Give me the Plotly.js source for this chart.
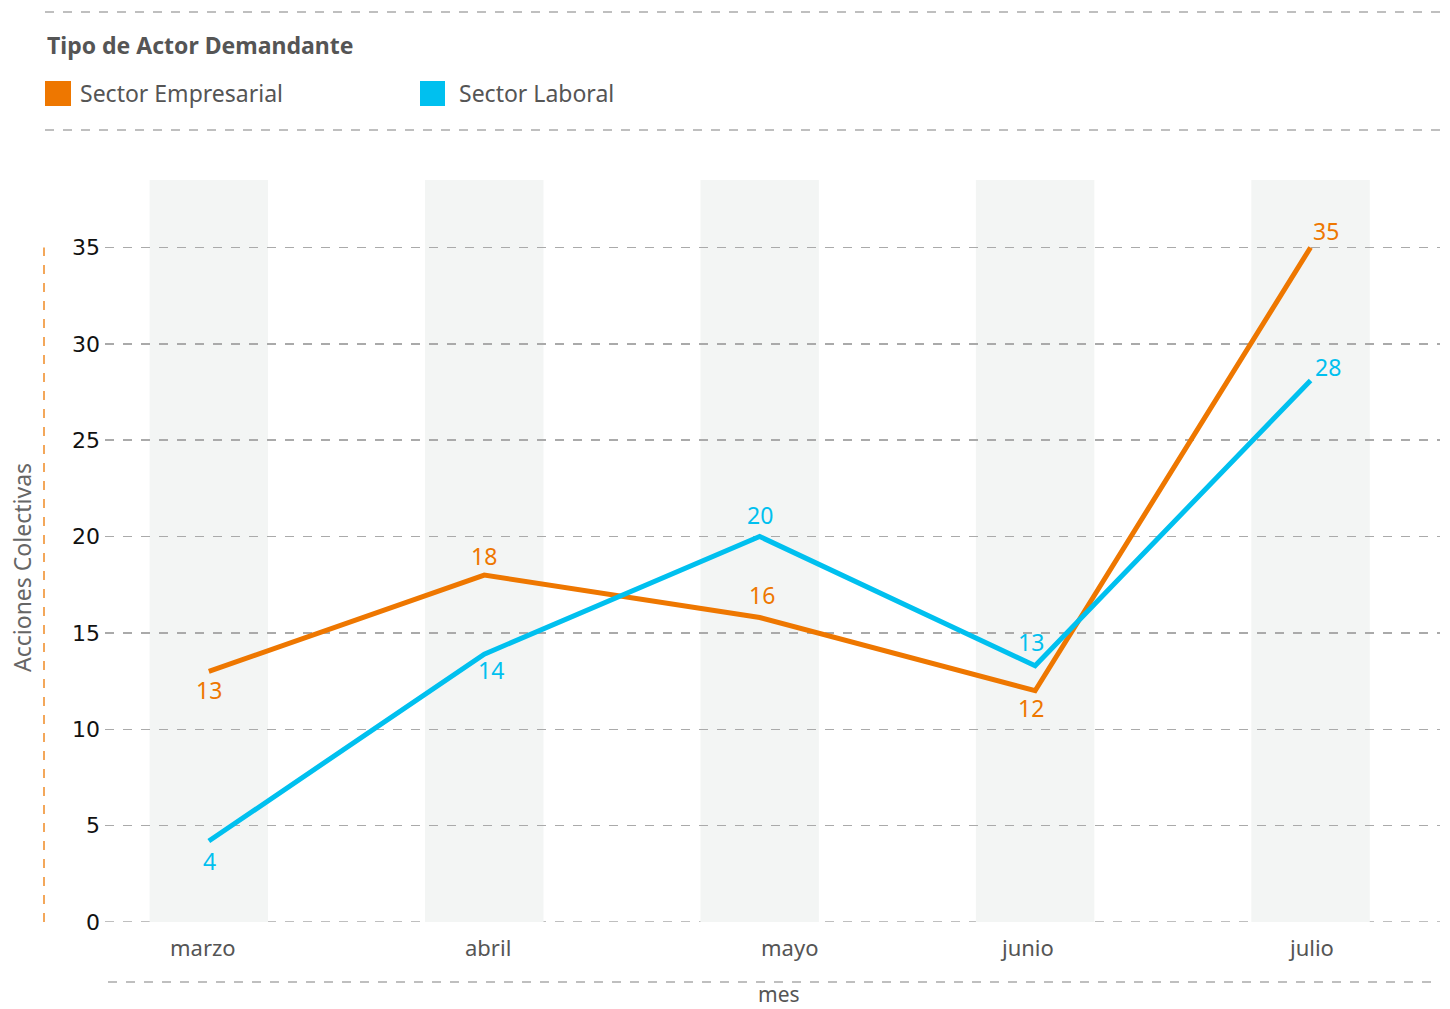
<!DOCTYPE html>
<html><head><meta charset="utf-8">
<script src="https://cdn.plot.ly/plotly-3.0.1.min.js"></script>
<style>body{margin:0;background:#fff}#chart{width:1450px;height:1009px}</style>
</head><body><div id="chart"></div>
<script>
var months = ['marzo','abril','mayo','junio','julio'];
var empresarial = [13, 18, 15.8, 12, 35];
var laboral = [4.2, 13.9, 20, 13.3, 28.1];
var seriesNames = ['Sector Empresarial','Sector Laboral'];
var legendTitle = 'Tipo de Actor Demandante';
var yTitle = 'Acciones Colectivas';
var xTitle = 'mes';
var yTicks = [0,5,10,15,20,25,30,35];

// label placement (styling, pixels)
var empOffsets = [[0,19],[0,-19],[2,-22],[-4,17],[15,-16]];
var labOffsets = [[1,20],[7,16],[0,-22],[-4,-24],[17,-13]];
var tickShift = [-6, 4, 30, -8, 0];

var ORANGE = '#EE7700', BLUE = '#00C0EF';
var FONT = 'Noto Sans, sans-serif';
var L = 105, R = 1440, T = 180, B = 922;
function px(x){return (x-L)/(R-L);}
function py(y){return (B-y)/(B-T);}

var traces = [
  {x: months, y: empresarial, name: seriesNames[0], mode:'lines', type:'scatter',
   line:{color:ORANGE, width:5}, hoverinfo:'skip'},
  {x: months, y: laboral, name: seriesNames[1], mode:'lines', type:'scatter',
   line:{color:BLUE, width:5}, hoverinfo:'skip'}
];

var shapes = months.map(function(m,i){
  return {type:'rect', xref:'x', yref:'y', x0:i-0.215, x1:i+0.215, y0:0, y1:38.5,
          fillcolor:'#F3F5F4', line:{width:0}, layer:'below'};
});
var dashLine = {color:'#AAAAAA', width:1.5, dash:'dash'};
shapes.push({type:'line', xref:'paper', yref:'paper', x0:px(45), x1:1, y0:py(12), y1:py(12), line:dashLine});
shapes.push({type:'line', xref:'paper', yref:'paper', x0:px(45), x1:1, y0:py(130), y1:py(130), line:dashLine});
shapes.push({type:'line', xref:'paper', yref:'paper', x0:px(108), x1:1, y0:py(982), y1:py(982), line:dashLine});
shapes.push({type:'line', xref:'paper', yref:'y', x0:0, x1:1, y0:0, y1:0, line:dashLine, layer:'below'});
shapes.push({type:'line', xref:'paper', yref:'y', x0:px(44), x1:px(44), y0:0, y1:35, line:{color:'#F08A24', width:1.5, dash:'dash'}});
shapes.push({type:'rect', xref:'paper', yref:'paper', x0:px(45), x1:px(71), y0:py(81), y1:py(106), fillcolor:ORANGE, line:{width:0}});
shapes.push({type:'rect', xref:'paper', yref:'paper', x0:px(420), x1:px(445), y0:py(81), y1:py(106), fillcolor:BLUE, line:{width:0}});

var annotations = [
  {xref:'paper', yref:'paper', x:px(45), y:py(45), xanchor:'left', yanchor:'middle', showarrow:false,
   text:'<b>'+legendTitle+'</b>', font:{family:FONT, size:23, color:'#555555'}},
  {xref:'paper', yref:'paper', x:px(78), y:py(93), xanchor:'left', yanchor:'middle', showarrow:false,
   text:seriesNames[0], font:{family:FONT, size:23, color:'#555555'}},
  {xref:'paper', yref:'paper', x:px(457), y:py(93), xanchor:'left', yanchor:'middle', showarrow:false,
   text:seriesNames[1], font:{family:FONT, size:23, color:'#555555'}},
  {xref:'paper', yref:'paper', x:px(22), y:py(568), xanchor:'center', yanchor:'middle', showarrow:false,
   textangle:-90, text:yTitle, font:{family:FONT, size:23, color:'#666666'}},
  {xref:'paper', yref:'paper', x:px(779), y:py(994), xanchor:'center', yanchor:'middle', showarrow:false,
   text:xTitle, font:{family:FONT, size:21, color:'#555555'}}
];
months.forEach(function(m,i){
  annotations.push({xref:'x', yref:'paper', x:m, y:py(947), xshift:tickShift[i], xanchor:'center', yanchor:'middle',
    showarrow:false, text:m, font:{family:FONT, size:22, color:'#555555'}});
  annotations.push({xref:'x', yref:'y', x:m, y:empresarial[i], xshift:empOffsets[i][0], yshift:-empOffsets[i][1],
    xanchor:'center', yanchor:'middle', showarrow:false, text:String(Math.round(empresarial[i])),
    font:{family:FONT, size:23, color:ORANGE}});
  annotations.push({xref:'x', yref:'y', x:m, y:laboral[i], xshift:labOffsets[i][0], yshift:-labOffsets[i][1],
    xanchor:'center', yanchor:'middle', showarrow:false, text:String(Math.round(laboral[i])),
    font:{family:FONT, size:23, color:BLUE}});
});

var layout = {
  width:1450, height:1009,
  margin:{l:L, r:1450-R, t:T, b:1009-B, pad:0},
  paper_bgcolor:'#fff', plot_bgcolor:'rgba(0,0,0,0)',
  showlegend:false,
  font:{family:FONT},
  xaxis:{type:'category', range:[-0.377, 4.47], showgrid:false, zeroline:false, showline:false,
         showticklabels:false, ticks:'', fixedrange:true},
  yaxis:{range:[0, 38.5], tickvals:yTicks, ticktext:yTicks.map(String), showgrid:true,
         gridcolor:'#AAAAAA', griddash:'dash', gridwidth:1.5, zeroline:false, showline:false, ticks:'',
         tickfont:{family:'DejaVu Sans, sans-serif', size:22, color:'#111111'}, ticklabelstandoff:4, fixedrange:true},
  shapes:shapes, annotations:annotations
};
Plotly.newPlot('chart', traces, layout, {displayModeBar:false, staticPlot:true});
</script></body></html>
